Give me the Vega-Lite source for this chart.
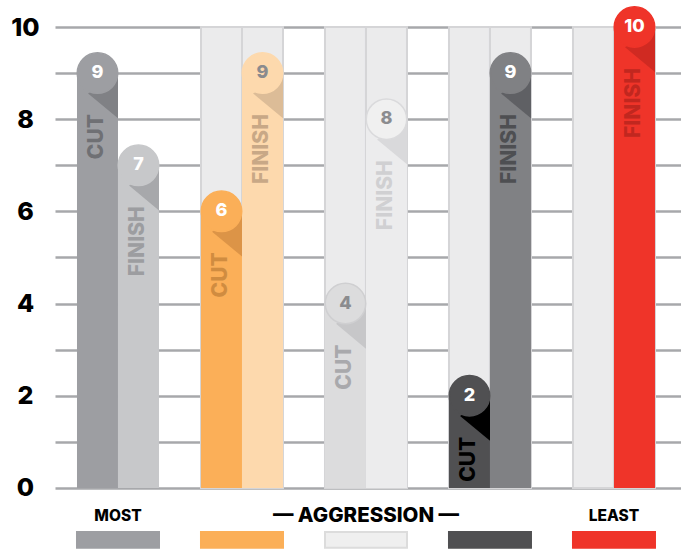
{
  "$schema": "https://vega.github.io/schema/vega-lite/v6.json",
  "autosize": {"type": "none"},
  "padding": {"left": 55, "top": 27, "right": 0, "bottom": 0},
  "width": 626,
  "height": 525,
  "background": "white",
  "config": {
    "view": {"stroke": null},
    "axisY": {
      "grid": true, "gridColor": "#a7a8ab", "gridWidth": 2.5,
      "domain": false, "ticks": false, "tickSize": 0,
      "labelFont": "Inter", "labelFontSize": 25, "labelFontWeight": 800,
      "labelColor": "#000000", "labelPadding": 30, "labelAlign": "center", "labelBaseline": "middle"
    }
  },
  "datasets": {
    "bars": [
      {"id": "G1 CUT", "group": "G1", "type": "CUT", "value": 9},
      {"id": "G1 FINISH", "group": "G1", "type": "FINISH", "value": 7},
      {"id": "G2 CUT", "group": "G2", "type": "CUT", "value": 6},
      {"id": "G2 FINISH", "group": "G2", "type": "FINISH", "value": 9},
      {"id": "G3 CUT", "group": "G3", "type": "CUT", "value": 4},
      {"id": "G3 FINISH", "group": "G3", "type": "FINISH", "value": 8},
      {"id": "G4 CUT", "group": "G4", "type": "CUT", "value": 2},
      {"id": "G4 FINISH", "group": "G4", "type": "FINISH", "value": 9},
      {"id": "G5 FINISH", "group": "G5", "type": "FINISH", "value": 10}
    ],
    "cols": [
      {"group": "G2", "type": "CUT"}, {"group": "G2", "type": "FINISH"},
      {"group": "G3", "type": "CUT"}, {"group": "G3", "type": "FINISH"},
      {"group": "G4", "type": "CUT"}, {"group": "G4", "type": "FINISH"},
      {"group": "G5", "type": "CUT"}, {"group": "G5", "type": "FINISH"}
    ],
    "groups": [
      {"group": "G1", "label": "MOST"},
      {"group": "G2", "label": ""},
      {"group": "G3", "label": "— AGGRESSION —"},
      {"group": "G4", "label": ""},
      {"group": "G5", "label": "LEAST"}
    ]
  },
  "resolve": {"scale": {"color": "independent", "stroke": "independent"}},
  "layer": [
    {
      "data": {"name": "cols"},
      "mark": {"type": "bar", "fill": "#ebebec", "stroke": "#d5d5d7", "strokeWidth": 2},
      "encoding": {
        "x": {"field": "group", "type": "nominal", "axis": null,
              "scale": {"domain": ["G1", "G2", "G3", "G4", "G5"], "paddingInner": 0.3387, "paddingOuter": 0.1936, "align": 0.458}},
        "xOffset": {"field": "type", "type": "nominal", "scale": {"domain": ["CUT", "FINISH"], "paddingInner": 0, "paddingOuter": 0}},
        "y": {"datum": 10, "type": "quantitative",
              "scale": {"domain": [-1.39, 10], "nice": false, "zero": false},
              "axis": {"title": null, "values": [0, 1, 2, 3, 4, 5, 6, 7, 8, 9, 10], "labelExpr": "datum.value % 2 == 0 ? datum.label : ''"}},
        "y2": {"datum": 0}
      }
    },
    {
      "data": {"name": "bars"},
      "mark": {"type": "bar"},
      "encoding": {
        "x": {"field": "group", "type": "nominal", "axis": null},
        "xOffset": {"field": "type", "type": "nominal"},
        "y": {"field": "value", "type": "quantitative", "axis": {"title": null, "values": [0, 1, 2, 3, 4, 5, 6, 7, 8, 9, 10], "labelExpr": "datum.value % 2 == 0 ? datum.label : ''"}},
        "y2": {"datum": 0},
        "color": {"field": "id", "type": "nominal", "legend": null,
                  "scale": {"domain": ["G1 CUT", "G1 FINISH", "G2 CUT", "G2 FINISH", "G3 CUT", "G3 FINISH", "G4 CUT", "G4 FINISH", "G5 FINISH"],
                            "range": ["#9d9ea2", "#c7c8ca", "#fbaf58", "#fdd9ad", "#dcdcdd", "#ececed", "#505052", "#808184", "#ef3429"]}}
      }
    },
    {
      "data": {"name": "bars"},
      "mark": {"type": "point", "filled": true, "opacity": 1, "size": 1681, "shape": "M -0.46 0.99 L 1 0 L 1 2.2 Z"},
      "encoding": {
        "x": {"field": "group", "type": "nominal", "axis": null},
        "xOffset": {"field": "type", "type": "nominal"},
        "y": {"field": "value", "type": "quantitative", "axis": {"title": null, "values": [0, 1, 2, 3, 4, 5, 6, 7, 8, 9, 10], "labelExpr": "datum.value % 2 == 0 ? datum.label : ''"}},
        "color": {"field": "id", "type": "nominal", "legend": null,
                  "scale": {"domain": ["G1 CUT", "G1 FINISH", "G2 CUT", "G2 FINISH", "G3 CUT", "G3 FINISH", "G4 CUT", "G4 FINISH", "G5 FINISH"],
                            "range": ["#808185", "#a7a8ab", "#dc9447", "#dcbc97", "#c7c7c9", "#d9d9db", "#000000", "#5f6064", "#d02a22"]}}
      }
    },
    {
      "data": {"name": "bars"},
      "mark": {"type": "point", "filled": true, "opacity": 1, "size": 1640, "shape": "circle", "strokeWidth": 1.5},
      "encoding": {
        "x": {"field": "group", "type": "nominal", "axis": null},
        "xOffset": {"field": "type", "type": "nominal"},
        "y": {"field": "value", "type": "quantitative", "axis": {"title": null, "values": [0, 1, 2, 3, 4, 5, 6, 7, 8, 9, 10], "labelExpr": "datum.value % 2 == 0 ? datum.label : ''"}},
        "color": {"field": "id", "type": "nominal", "legend": null,
                  "scale": {"domain": ["G1 CUT", "G1 FINISH", "G2 CUT", "G2 FINISH", "G3 CUT", "G3 FINISH", "G4 CUT", "G4 FINISH", "G5 FINISH"],
                            "range": ["#9d9ea2", "#c7c8ca", "#fbaf58", "#fdd9ad", "#dcdcdd", "#f0f0f0", "#505052", "#808184", "#ef3429"]}},
        "stroke": {"field": "id", "type": "nominal", "legend": null,
                  "scale": {"domain": ["G1 CUT", "G1 FINISH", "G2 CUT", "G2 FINISH", "G3 CUT", "G3 FINISH", "G4 CUT", "G4 FINISH", "G5 FINISH"],
                            "range": ["#9d9ea2", "#c7c8ca", "#fbaf58", "#fdd9ad", "#cfcfd1", "#dadadc", "#505052", "#808184", "#ef3429"]}}
      }
    },
    {
      "data": {"name": "bars"},
      "mark": {"type": "text", "font": "Inter", "fontSize": 18, "fontWeight": 800, "baseline": "middle", "align": "center"},
      "encoding": {
        "x": {"field": "group", "type": "nominal", "axis": null},
        "xOffset": {"field": "type", "type": "nominal"},
        "y": {"field": "value", "type": "quantitative", "axis": {"title": null, "values": [0, 1, 2, 3, 4, 5, 6, 7, 8, 9, 10], "labelExpr": "datum.value % 2 == 0 ? datum.label : ''"}},
        "text": {"field": "value", "type": "quantitative"},
        "color": {"field": "id", "type": "nominal", "legend": null,
                  "scale": {"domain": ["G1 CUT", "G1 FINISH", "G2 CUT", "G2 FINISH", "G3 CUT", "G3 FINISH", "G4 CUT", "G4 FINISH", "G5 FINISH"],
                            "range": ["#ffffff", "#ffffff", "#ffffff", "#8a8b8e", "#8b8c8f", "#8b8c8f", "#ffffff", "#ffffff", "#ffffff"]}}
      }
    },
    {
      "data": {"name": "bars"},
      "mark": {"type": "text", "font": "Inter", "fontSize": 21, "fontWeight": 800, "baseline": "middle", "align": "right", "angle": 270, "dx": -41},
      "encoding": {
        "x": {"field": "group", "type": "nominal", "axis": null},
        "xOffset": {"field": "type", "type": "nominal"},
        "y": {"field": "value", "type": "quantitative", "axis": {"title": null, "values": [0, 1, 2, 3, 4, 5, 6, 7, 8, 9, 10], "labelExpr": "datum.value % 2 == 0 ? datum.label : ''"}},
        "text": {"field": "type", "type": "nominal"},
        "color": {"field": "id", "type": "nominal", "legend": null,
                  "scale": {"domain": ["G1 CUT", "G1 FINISH", "G2 CUT", "G2 FINISH", "G3 CUT", "G3 FINISH", "G4 CUT", "G4 FINISH", "G5 FINISH"],
                            "range": ["#6f7074", "#9c9da0", "#d08c40", "#c8a886", "#a9a9ac", "#d0d0d2", "#000000", "#4e4f52", "#c1271f"]}}
      }
    },
    {
      "data": {"name": "groups"},
      "mark": {"type": "bar", "strokeWidth": 2},
      "encoding": {
        "x": {"field": "group", "type": "nominal", "axis": null},
        "y": {"datum": -0.955, "type": "quantitative", "axis": {"title": null, "values": [0, 1, 2, 3, 4, 5, 6, 7, 8, 9, 10], "labelExpr": "datum.value % 2 == 0 ? datum.label : ''"}},
        "y2": {"datum": -1.3},
        "color": {"field": "group", "type": "nominal", "legend": null,
                  "scale": {"domain": ["G1", "G2", "G3", "G4", "G5"], "range": ["#9d9ea2", "#fbaf58", "#efefef", "#505052", "#ef3429"]}},
        "stroke": {"field": "group", "type": "nominal", "legend": null,
                  "scale": {"domain": ["G1", "G2", "G3", "G4", "G5"], "range": ["#9d9ea2", "#fbaf58", "#dcdcdc", "#505052", "#ef3429"]}}
      }
    },
    {
      "data": {"name": "groups"},
      "transform": [{"filter": "datum.label != ''"}],
      "mark": {"type": "text", "font": "Inter", "fontWeight": 800, "color": "#000000", "baseline": "middle", "align": "center"},
      "encoding": {
        "x": {"field": "group", "type": "nominal", "axis": null},
        "y": {"datum": -0.6, "type": "quantitative", "axis": {"title": null, "values": [0, 1, 2, 3, 4, 5, 6, 7, 8, 9, 10], "labelExpr": "datum.value % 2 == 0 ? datum.label : ''"}},
        "text": {"field": "label", "type": "nominal"},
        "size": {"condition": {"test": "datum.group == 'G3'", "value": 20.5}, "value": 15.5}
      }
    }
  ]
}
